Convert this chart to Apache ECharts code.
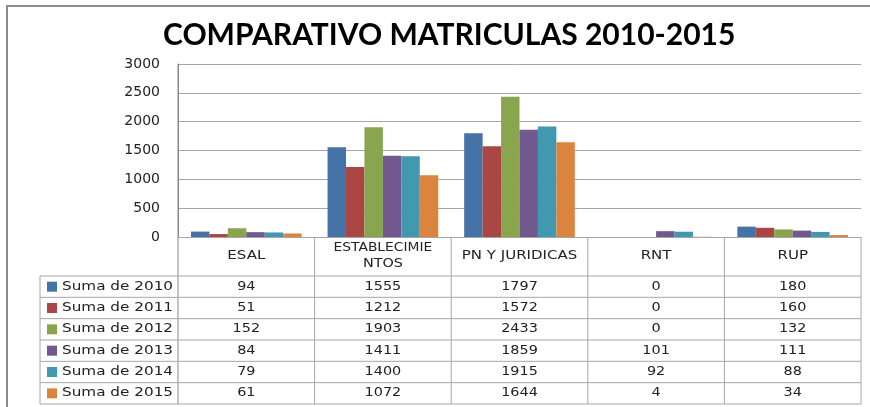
<!DOCTYPE html>
<html>
<head>
<meta charset="utf-8">
<script src="https://cdn.jsdelivr.net/npm/echarts@6/dist/echarts.min.js"></script>
<style>
  html, body { margin: 0; padding: 0; background: #fff; }
  #chart { width: 870px; height: 407px; }
</style>
</head>
<body>
<div id="chart"></div>
<script>
// data
var categories = ['ESAL', 'ESTABLECIMIENTOS', 'PN Y JURIDICAS', 'RNT', 'RUP'];
var seriesNames = ['Suma de 2010', 'Suma de 2011', 'Suma de 2012', 'Suma de 2013', 'Suma de 2014', 'Suma de 2015'];
var s2010 = [94, 1555, 1797, 0, 180];
var s2011 = [51, 1212, 1572, 0, 160];
var s2012 = [152, 1903, 2433, 0, 132];
var s2013 = [84, 1411, 1859, 101, 111];
var s2014 = [79, 1400, 1915, 92, 88];
var s2015 = [61, 1072, 1644, 4, 34];
var yTicks = [0, 500, 1000, 1500, 2000, 2500, 3000];

var values = [s2010, s2011, s2012, s2013, s2014, s2015];
var colors = ['#4572A7', '#AA4643', '#89A54E', '#71588F', '#4198AF', '#DB843D'];
var lineColor = '#a6a6a6';
var textFont = '"DejaVu Sans", Verdana, sans-serif';

var chartDom = document.getElementById('chart');
var myChart = echarts.init(chartDom);

var option = {
    animation: false,
    title: {
        text: 'COMPARATIVO MATRICULAS 2010-2015',
        left: 158,
        top: 15,
        textStyle: {
            fontFamily: 'Lato, "Open Sans", sans-serif',
            fontWeight: 'bold',
            fontSize: 30,
            color: '#000'
        }
    },
    grid: { left: 178, right: 9, top: 64, bottom: 170 },
    xAxis: {
        type: 'category',
        data: categories,
        axisLine: { show: true, lineStyle: { color: lineColor } },
        axisTick: { show: false },
        axisLabel: { show: false }
    },
    yAxis: {
        type: 'value',
        min: yTicks[0],
        max: yTicks[yTicks.length - 1],
        interval: 500,
        axisLine: { show: true, lineStyle: { color: '#888' } },
        axisTick: { show: false },
        axisLabel: {
            margin: 18,
            color: '#222',
            fontFamily: textFont,
            fontSize: 14,
            formatter: function (v) { return String(v); }
        },
        splitLine: { lineStyle: { color: lineColor } }
    },
    series: seriesNames.map(function (name, i) {
        return {
            name: name,
            type: 'bar',
            barGap: 0,
            barCategoryGap: '19%',
            itemStyle: { color: colors[i] },
            data: values[i]
        };
    })
};
myChart.setOption(option);

// data table under the axis, positioned from the axis scale
var c0 = myChart.convertToPixel({ xAxisIndex: 0 }, 0);
var c1 = myChart.convertToPixel({ xAxisIndex: 0 }, 1);
var colW = c1 - c0;
var axisY = myChart.convertToPixel({ yAxisIndex: 0 }, 0);
var topY = myChart.convertToPixel({ yAxisIndex: 0 }, 3000);
var xStart = c0 - colW / 2;
var xEnd = xStart + colW * categories.length;
var headerBottom = 276;
var tableBottom = 404;
var rowH = (tableBottom - headerBottom) / seriesNames.length;
var legendLeft = 40;

var elements = [];
function line(x1, y1, x2, y2, color) {
    elements.push({
        type: 'line',
        shape: { x1: x1, y1: y1, x2: x2, y2: y2 },
        style: { stroke: color || lineColor, lineWidth: 1 },
        silent: true
    });
}
function label(text, x, y, sx, align) {
    elements.push({
        type: 'text',
        x: x, y: y,
        scaleX: sx,
        style: {
            text: text,
            fill: '#222',
            font: '12px ' + textFont,
            textAlign: align,
            textVerticalAlign: 'middle'
        },
        silent: true
    });
}

// outer frame
elements.push({
    type: 'rect',
    shape: { x: 7, y: 6, width: 900, height: 500 },
    style: { fill: null, stroke: '#8c8c8c', lineWidth: 2 },
    silent: true
});

// vertical lines
line(xStart, topY, xStart, tableBottom, '#888');
for (var k = 1; k <= categories.length; k++) {
    line(xStart + colW * k, axisY, xStart + colW * k, tableBottom);
}
line(legendLeft, headerBottom, legendLeft, tableBottom);

// header: category names
categories.forEach(function (name, j) {
    var cx = xStart + colW * (j + 0.5);
    if (name === 'ESTABLECIMIENTOS') {
        label('ESTABLECIMIE', cx, 248, 1.15, 'center');
        label('NTOS', cx, 264, 1.2, 'center');
    } else {
        label(name, cx, 256, 1.25, 'center');
    }
});

// horizontal lines and row contents
for (var r = 0; r <= seriesNames.length; r++) {
    var y = headerBottom + rowH * r;
    line(legendLeft, y, xEnd, y);
}
seriesNames.forEach(function (name, i) {
    var cy = headerBottom + rowH * (i + 0.5);
    elements.push({
        type: 'rect',
        shape: { x: 47, y: cy - 5, width: 10, height: 10 },
        style: { fill: colors[i] },
        silent: true
    });
    label(name, 62, cy, 1.27, 'left');
    values[i].forEach(function (v, j) {
        label(String(v), xStart + colW * (j + 0.5), cy, 1.2, 'center');
    });
});

myChart.setOption({ graphic: { elements: elements } });
</script>
</body>
</html>
